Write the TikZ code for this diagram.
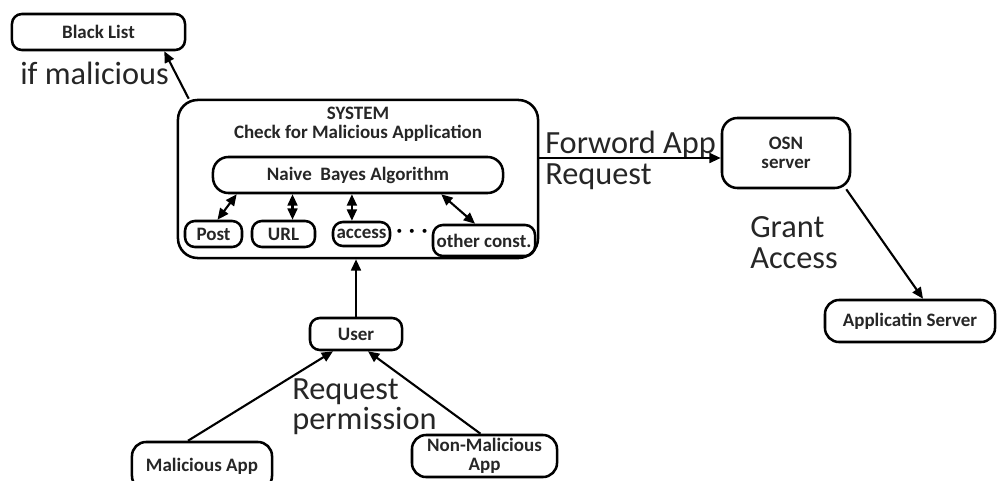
\documentclass[tikz,border=0pt]{standalone}
\usepackage{fontspec}
\setmainfont{Carlito}
\usetikzlibrary{arrows.meta}
\begin{document}
\begin{tikzpicture}[x=0.025cm, y=-0.025cm, >={Triangle[length=8pt,width=7pt]},
    small/.style={font=\fontsize{13.5}{13.5}\selectfont\bfseries, text=black!85},
    box/.style={draw, small, line width=1.8pt, rounded corners=7pt, inner sep=0pt, align=center},
    lbl/.style={align=left, inner sep=0pt, text=black!85, font=\fontsize{23}{22}\selectfont},
    conn/.style={line width=1.5pt}]
\useasboundingbox (0,0) rectangle (998,480);
\fill[white] (0,0) rectangle (998,480);
    \node[box, minimum width=4.325cm, minimum height=0.9cm] (blacklist) at (98.5,32) {Black List};
    \node[box, rounded corners=14pt, minimum width=9cm, minimum height=3.95cm] (system) at (358,179) {};
    \node[small, align=center, inner sep=0pt] (systitle) at (358,124) {SYSTEM\\Check for Malicious Application};
    \node[box, rounded corners=11pt, minimum width=7.25cm, minimum height=0.9cm] (naive) at (358,175) {Naive~ Bayes Algorithm};
    \node[box, minimum width=1.425cm, minimum height=0.65cm] (post) at (213.5,234) {Post};
    \node[box, minimum width=1.575cm, minimum height=0.65cm] (url) at (283.5,234) {URL};
    \node[box, minimum width=1.425cm, minimum height=0.6cm] (access) at (361.5,234) {access};
    \node[inner sep=0pt, font=\fontsize{8}{8}\selectfont] (dots) at (412,232) {\textbullet\hspace{5pt}\textbullet\hspace{5pt}\textbullet};
    \node[box, minimum width=2.55cm, minimum height=0.775cm] (other) at (484,240.5) {other const.};
    \node[box, rounded corners=11pt, minimum width=3.2cm, minimum height=1.75cm] (osn) at (786,153) {OSN\\server};
    \node[box, rounded corners=10pt, minimum width=4.25cm, minimum height=1.05cm] (appserver) at (910,321) {Applicatin Server};
    \node[box, minimum width=2.3cm, minimum height=0.8cm] (user) at (356,334) {User};
    \node[box, rounded corners=10pt, minimum width=3.5cm, minimum height=1.2cm] (malapp) at (202,466) {Malicious App};
    \node[box, rounded corners=10pt, minimum width=3.625cm, minimum height=1.05cm] (nonmal) at (484.5,456) {Non-Malicious\\App};
    \node[lbl, anchor=north west] (ifmal) at (20,62) {if malicious};
    \node[lbl, anchor=north west] (fwdlbl) at (545,131) {Forword App\\Request};
    \node[lbl, anchor=north west] (grant) at (750,216) {Grant\\Access};
    \node[lbl, anchor=north west] (reqlbl) at (292,378) {Request\\permission};
    \coordinate (fwd) at ([yshift=-0.125cm]osn.west);
    \draw[conn, ->] ([xshift=0.3cm]system.north west) -- ([xshift=-0.55cm]blacklist.south east);
    \draw[conn, ->] (system.east |- fwd) -- (fwd);
    \draw[conn, ->] ([xshift=-0.125cm]osn.south east) -- ([xshift=0.325cm]appserver.north);
    \draw[conn, ->] (user.north) -- (user.north |- system.south);
    \draw[conn, ->] ([xshift=-0.35cm]malapp.north) -- ([xshift=-0.575cm]user.south);
    \draw[conn, ->] ([xshift=-0.1cm]nonmal.north) -- ([xshift=0.3cm]user.south);
    \draw[conn, <->] ([xshift=0.625cm]naive.south west) -- ([xshift=0.1cm]post.north);
    \draw[conn, <->] ([xshift=0.225cm]url.north) -- ([xshift=0.225cm]url.north |- naive.south);
    \draw[conn, <->] ([xshift=-0.24cm]access.north) -- ([xshift=-0.24cm]access.north |- naive.south);
    \draw[conn, <->] ([xshift=-1.575cm]naive.south east) -- ([xshift=-0.225cm]other.north);
\end{tikzpicture}
\end{document}
